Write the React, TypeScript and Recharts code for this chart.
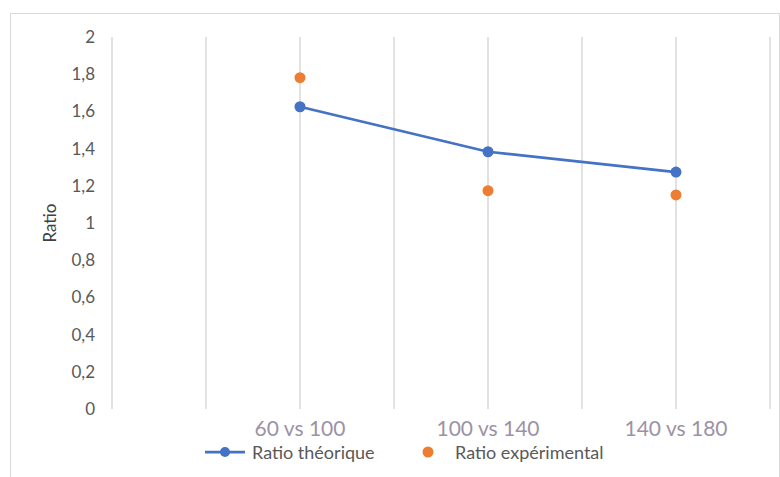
import { ScatterChart, Scatter, XAxis, YAxis, CartesianGrid } from 'recharts'

// Ratio chart: theoretical (line + markers) vs experimental (markers only)
const categories = ['60 vs 100', '100 vs 140', '140 vs 180']
const categoryX = [2, 4, 6]
const theoretical = [1.625, 1.383, 1.274]
const experimental = [1.781, 1.174, 1.151]
const xTicks = [0, 1, 2, 3, 4, 5, 6, 7]
const yTicks = [0, 0.2, 0.4, 0.6, 0.8, 1, 1.2, 1.4, 1.6, 1.8, 2]

const BLUE = '#4472c4'
const ORANGE = '#ed7d31'
const FONT = 'Lato, "Open Sans", sans-serif'

const theoData = categoryX.map((x, i) => ({ x, y: theoretical[i] }))
const expData = categoryX.map((x, i) => ({ x, y: experimental[i] }))

function CategoryTick({ x, y, payload }: any) {
  const i = categoryX.indexOf(payload.value)
  if (i < 0) return <g />
  return (
    <text x={x} y={y + 27} textAnchor="middle" fill="#9d92a3" fontSize={21} fontFamily={FONT}>
      {categories[i]}
    </text>
  )
}

function Dot(color: string) {
  return (p: any) => <circle cx={p.cx} cy={p.cy} r={5.5} fill={color} />
}

export default function App() {
  return (
    <div style={{ position: 'absolute', left: 0, top: 0, width: 780, height: 477, background: '#fff', fontFamily: FONT }}>
      <div style={{ position: 'absolute', left: 10, top: 13, width: 768, height: 470, border: '1px solid #d9d9d9' }} />
      <div style={{ position: 'absolute', left: 0, top: 0 }}>
        <ScatterChart width={780} height={477} margin={{ top: 37, right: 10, bottom: 0, left: 0 }}>
          <CartesianGrid horizontal={false} stroke="#d9d9d9" strokeWidth={1.5} />
          <XAxis
            type="number"
            dataKey="x"
            domain={[0, 7]}
            ticks={xTicks}
            height={68}
            axisLine={false}
            tickLine={false}
            tickSize={0}
            tickMargin={0}
            tick={<CategoryTick />}
            interval={0}
          />
          <YAxis
            type="number"
            dataKey="y"
            domain={[0, 2]}
            ticks={yTicks}
            width={112}
            axisLine={false}
            tickLine={false}
            tickSize={0}
            tickMargin={17}
            interval={0}
            tick={{ fill: '#595959', fontSize: 17, fontFamily: FONT }}
            tickFormatter={(v: number) => String(v).replace('.', ',')}
            label={{
              content: (p: any) => {
                const vb = p.viewBox
                const cx = vb.x + 49
                const cy = vb.y + vb.height / 2
                return (
                  <text x={cx} y={cy} transform={`rotate(-90 ${cx} ${cy})`} textAnchor="middle" dominantBaseline="central" fill="#404040" fontSize={17} fontFamily={FONT}>
                    Ratio
                  </text>
                )
              },
            }}
          />
          <Scatter
            name="Ratio théorique"
            data={theoData}
            line={{ stroke: BLUE, strokeWidth: 2.75 }}
            lineType="joint"
            shape={Dot(BLUE)}
            isAnimationActive={false}
          />
          <Scatter name="Ratio expérimental" data={expData} shape={Dot(ORANGE)} isAnimationActive={false} />
        </ScatterChart>
      </div>
      {/* Legend */}
      <svg style={{ position: 'absolute', left: 0, top: 438 }} width={780} height={30}>
        <line x1={205} x2={245} y1={14} y2={14} stroke={BLUE} strokeWidth={2.75} />
        <circle cx={225} cy={14} r={5} fill={BLUE} />
        <text x={252} y={14} dominantBaseline="central" fill="#595959" fontSize={18} fontFamily={FONT}>Ratio théorique</text>
        <circle cx={428} cy={14} r={5.5} fill={ORANGE} />
        <text x={455} y={14} dominantBaseline="central" fill="#595959" fontSize={18} fontFamily={FONT}>Ratio expérimental</text>
      </svg>
    </div>
  )
}
